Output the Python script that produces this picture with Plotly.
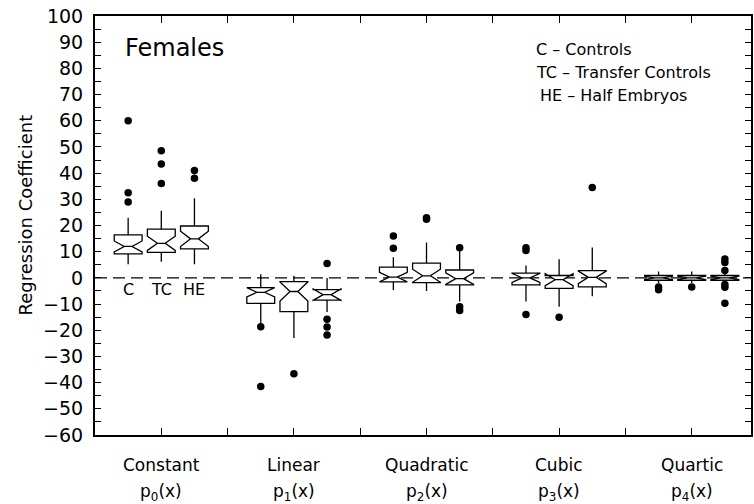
import plotly.graph_objects as go

# Polynomial terms (one group of three boxes each)
terms = ["Constant", "Linear", "Quadratic", "Cubic", "Quartic"]
term_funcs = ["p<sub>0</sub>(x)", "p<sub>1</sub>(x)", "p<sub>2</sub>(x)", "p<sub>3</sub>(x)", "p<sub>4</sub>(x)"]
groups = ["C", "TC", "HE"]

# Box statistics per term, listed in the order C, TC, HE
q1 = [
    [9.2, 9.7, 11.1],
    [-9.7, -12.9, -8.5],
    [-1.5, -1.8, -2.7],
    [-2.7, -4.0, -3.4],
    [-0.9, -0.9, -0.9],
]
median = [
    [12.0, 13.2, 14.9],
    [-5.5, -5.2, -6.4],
    [0.3, 0.8, -0.3],
    [0.0, -0.7, 0.2],
    [0.0, 0.0, 0.0],
]
q3 = [
    [16.4, 18.6, 19.8],
    [-3.7, -1.4, -4.5],
    [4.1, 5.6, 3.0],
    [1.8, 0.9, 2.8],
    [0.9, 0.9, 0.9],
]
lower_fence = [
    [5.2, 6.2, 5.2],
    [-17.5, -23.0, -13.0],
    [-4.6, -5.0, -9.0],
    [-9.0, -11.0, -7.0],
    [-2.0, -2.0, -1.8],
]
upper_fence = [
    [23.0, 25.6, 30.4],
    [1.4, 0.8, 0.0],
    [7.9, 13.5, 11.0],
    [4.7, 7.1, 11.6],
    [2.4, 2.4, 2.0],
]
notch_span = [
    [2.1, 2.7, 2.9],
    [1.8, 3.6, 2.2],
    [1.8, 2.5, 2.2],
    [1.7, 2.3, 2.4],
    [0.6, 0.6, 0.6],
]
outliers = [
    [[60.0, 32.5, 29.0], [48.5, 43.5, 36.0], [41.0, 38.0]],
    [[-18.7, -41.5], [-36.6], [5.5, -15.8, -18.8, -21.8]],
    [[11.3, 16.0], [22.4, 23.0], [11.5, -11.0, -12.5]],
    [[10.5, 11.5, -14.0], [-15.0], [34.5]],
    [[-3.5, -4.5], [-3.5], [7.2, 5.9, 2.8, -2.5, -3.6, -9.7]],
]

offsets = [-0.25, 0.0, 0.25]
FONT = "DejaVu Sans"


def txt_font(size):
    return dict(family=FONT, size=size, color="black")


fig = go.Figure()

for i, term in enumerate(terms):
    for j, g in enumerate(groups):
        xpos = i + 1 + offsets[j]
        fig.add_trace(go.Box(
            x=[xpos],
            q1=[q1[i][j]], median=[median[i][j]], q3=[q3[i][j]],
            lowerfence=[lower_fence[i][j]], upperfence=[upper_fence[i][j]],
            notchspan=[notch_span[i][j]],
            notched=True, notchwidth=0.36,
            width=0.21, whiskerwidth=0,
            boxpoints=False,
            fillcolor="white",
            line=dict(color="black", width=1.3),
            name=f"{term} {g}", showlegend=False,
        ))
        pts = outliers[i][j]
        fig.add_trace(go.Scatter(
            x=[xpos] * len(pts), y=pts, mode="markers",
            marker=dict(color="black", size=7.5),
            showlegend=False, hoverinfo="y",
        ))

# dashed zero reference line
fig.add_shape(type="line", xref="paper", yref="y", x0=0, x1=1, y0=0, y1=0,
              line=dict(color="black", width=1.3, dash="12px,6px"), layer="below")

annotations = []
# category labels under the plot
for i, (t, f) in enumerate(zip(terms, term_funcs)):
    annotations.append(dict(x=i + 1, y=-0.0716, xref="x", yref="paper", text=t,
                            showarrow=False, xanchor="center", yanchor="middle",
                            font=txt_font(17)))
    annotations.append(dict(x=i + 1, y=-0.138, xref="x", yref="paper", text=f,
                            showarrow=False, xanchor="center", yanchor="middle",
                            font=txt_font(17)))
# group keys under the first set of boxes
for j, g in enumerate(groups):
    annotations.append(dict(x=1 + offsets[j], y=-4.6, xref="x", yref="y", text=g,
                            showarrow=False, xanchor="center", yanchor="middle",
                            font=txt_font(16)))

annotations += [
    dict(x=0.0426, y=0.924, xref="paper", yref="paper", text="Females",
         showarrow=False, xanchor="left", yanchor="middle", font=txt_font(24)),
    dict(x=0.669, y=0.919, xref="paper", yref="paper", text="C – Controls",
         showarrow=False, xanchor="left", yanchor="middle", font=txt_font(16)),
    dict(x=0.669, y=0.866, xref="paper", yref="paper", text="TC – Transfer Controls",
         showarrow=False, xanchor="left", yanchor="middle", font=txt_font(16)),
    dict(x=0.676, y=0.811, xref="paper", yref="paper", text="HE – Half Embryos",
         showarrow=False, xanchor="left", yanchor="middle", font=txt_font(16)),
    dict(x=-0.106, y=0.525, xref="paper", yref="paper", text="Regression Coefficient",
         showarrow=False, textangle=-90, xanchor="center", yanchor="middle",
         font=txt_font(18)),
]

fig.update_layout(
    width=754, height=504,
    margin=dict(l=95, r=1, t=16, b=69),
    paper_bgcolor="white", plot_bgcolor="white",
    boxmode="overlay",
    annotations=annotations,
    font=dict(family=FONT, color="black"),
)
fig.update_xaxes(
    range=[0.5, 5.447], tickmode="linear", tick0=0.5, dtick=0.5,
    showticklabels=False, ticks="inside", ticklen=7, tickcolor="black",
    showline=True, linecolor="black", linewidth=2, mirror="ticks",
    showgrid=False, zeroline=False,
)
fig.update_yaxes(
    range=[-60, 100], tickmode="linear", tick0=0, dtick=10,
    ticks="inside", ticklen=6, tickcolor="black",
    minor=dict(dtick=5, ticks="inside", ticklen=6, tickcolor="black", showgrid=False),
    tickfont=txt_font(19),
    ticklabelstandoff=6,
    showline=True, linecolor="black", linewidth=2, mirror="ticks",
    showgrid=False, zeroline=False,
)

fig.write_html("out.html")
